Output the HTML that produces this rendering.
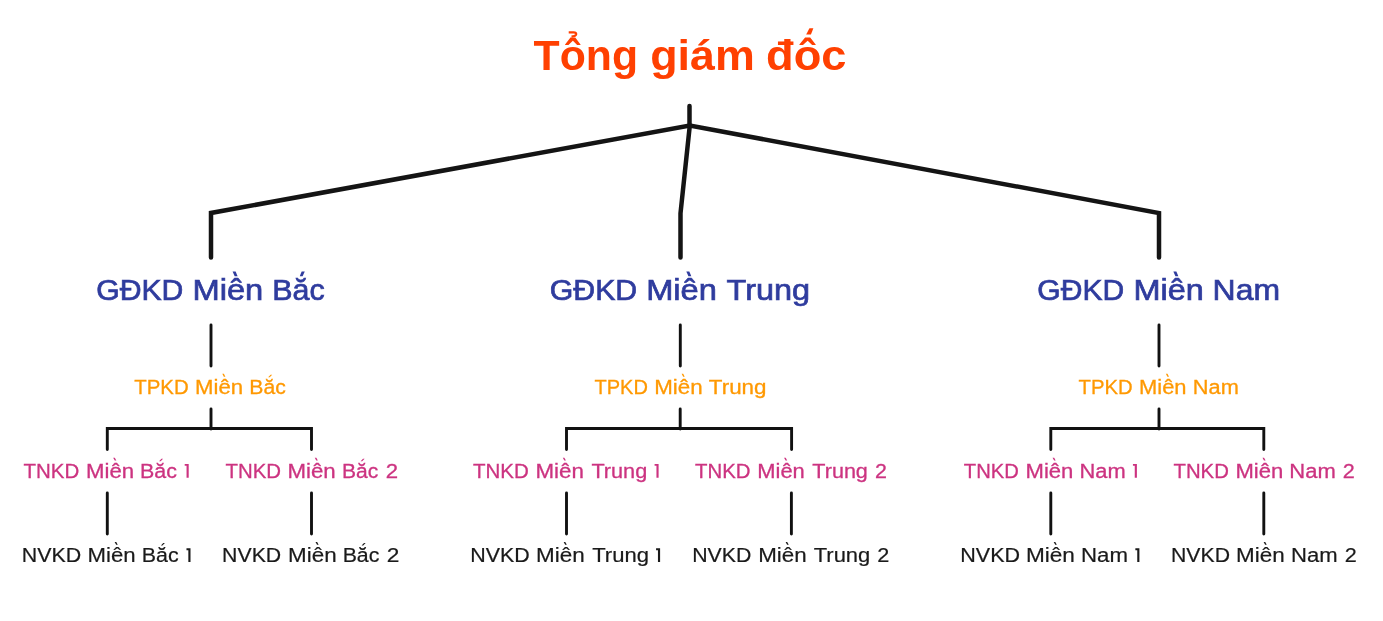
<!DOCTYPE html>
<html lang="vi">
<head>
<meta charset="utf-8">
<title>Sơ đồ tổ chức</title>
<style>
html,body{margin:0;padding:0;background:#fff;}
body{width:1383px;height:621px;overflow:hidden;font-family:"Liberation Sans",sans-serif;}
svg{display:block;will-change:transform;opacity:0.999;}
text{font-family:"Liberation Sans",sans-serif;}
.t0{font-size:43.1px;font-weight:bold;fill:#ff4000;}
.t1{font-size:29.7px;fill:#2f3c9e;stroke:#2f3c9e;stroke-width:0.7px;}
.t2{font-size:20px;fill:#ff9900;stroke:#ff9900;stroke-width:0.3px;}
.t3{font-size:20px;fill:#cc3380;stroke:#cc3380;stroke-width:0.3px;}
.t4{font-size:20px;fill:#1a1a1a;stroke:#1a1a1a;stroke-width:0.2px;}
.one{stroke:none !important;}
.hook{fill:none;stroke:#ff4000;stroke-width:2.3;stroke-linecap:butt;stroke-linejoin:round;}
.thick{fill:none;stroke:#141414;stroke-width:4.5;stroke-linecap:round;stroke-linejoin:miter;}
.thin{fill:none;stroke:#111;stroke-width:2.9;stroke-linecap:round;stroke-linejoin:miter;}
</style>
</head>
<body>
<svg width="1383" height="621" viewBox="0 0 1383 621" role="img" aria-label="Sơ đồ tổ chức">
<desc>Tổng giám đốc; GĐKD Miền Bắc, GĐKD Miền Trung, GĐKD Miền Nam; TPKD Miền Bắc, TPKD Miền Trung, TPKD Miền Nam; TNKD Miền Bắc 1, TNKD Miền Bắc 2, TNKD Miền Trung 1, TNKD Miền Trung 2, TNKD Miền Nam 1, TNKD Miền Nam 2; NVKD Miền Bắc 1, NVKD Miền Bắc 2, NVKD Miền Trung 1, NVKD Miền Trung 2, NVKD Miền Nam 1, NVKD Miền Nam 2</desc>
<!-- top connectors -->
<g class="thick">
<path d="M689.5 106 L689.5 125.5"/>
<path d="M211 257.5 L211 213 L689.8 125.5 L1159 213 L1159 257.5"/>
<path d="M689.8 125.5 L680.5 213.3 L680.5 257.5"/>
</g>
<!-- thin connectors -->
<g class="thin">
<path d="M211 325 L211 366"/>
<path d="M680.3 325 L680.3 366"/>
<path d="M1159 325 L1159 366"/>
<path d="M211 409 L211 429"/>
<path d="M680.2 409 L680.2 429"/>
<path d="M1159 409 L1159 429"/>
<path d="M107.3 449.5 L107.3 428.5 L311.5 428.5 L311.5 449.5"/>
<path d="M566.5 449.5 L566.5 428.5 L791.6 428.5 L791.6 449.5"/>
<path d="M1050.8 449.5 L1050.8 428.5 L1263.8 428.5 L1263.8 449.5"/>
<path d="M107.3 493 L107.3 534"/>
<path d="M311.5 493 L311.5 534"/>
<path d="M566.5 493 L566.5 534"/>
<path d="M791.4 493 L791.4 534"/>
<path d="M1050.8 493 L1050.8 534"/>
<path d="M1263.8 493 L1263.8 534"/>
</g>
<!-- labels (each word placed individually) -->
<g>
<text id="w0" class="t0" x="533.52" y="70.00" textLength="104.50" lengthAdjust="spacingAndGlyphs">Tông</text>
<path class="hook" d="M568.71 32.4H573.61Q576.51 32.5 576.11 34.5Q575.71 36.1 571.51 36.7"/>
<text id="w1" class="t0" x="650.23" y="70.00" textLength="104.58" lengthAdjust="spacingAndGlyphs">giám</text>
<text id="w2" class="t0" x="766.13" y="70.00" textLength="80.41" lengthAdjust="spacingAndGlyphs">đôc</text>
<path class="t0 one" d="M809.46 28.2H813.36L810.96 34.5H806.16Z"/>
<text id="w3" class="t1" x="96.18" y="300.00" textLength="87.22" lengthAdjust="spacingAndGlyphs">GĐKD</text>
<text id="w4" class="t1" x="192.44" y="300.00" textLength="70.83" lengthAdjust="spacingAndGlyphs">Miên</text>
<path class="t1 one" d="M232.60 271.50 L235.60 271.50 L237.60 276.30 L234.70 276.30Z"/>
<text id="w5" class="t1" x="272.33" y="300.00" textLength="52.39" lengthAdjust="spacingAndGlyphs">Băc</text>
<path class="t1 one" d="M301.66 271.55 L304.76 271.55 L302.66 276.30 L299.76 276.30Z"/>
<text id="w6" class="t1" x="549.77" y="300.00" textLength="87.48" lengthAdjust="spacingAndGlyphs">GĐKD</text>
<text id="w7" class="t1" x="646.20" y="300.00" textLength="70.75" lengthAdjust="spacingAndGlyphs">Miên</text>
<path class="t1 one" d="M686.31 271.50 L689.31 271.50 L691.31 276.30 L688.41 276.30Z"/>
<text id="w8" class="t1" x="726.56" y="300.00" textLength="83.54" lengthAdjust="spacingAndGlyphs">Trung</text>
<text id="w9" class="t1" x="1037.37" y="300.00" textLength="86.76" lengthAdjust="spacingAndGlyphs">GĐKD</text>
<text id="w10" class="t1" x="1133.50" y="300.00" textLength="70.34" lengthAdjust="spacingAndGlyphs">Miên</text>
<path class="t1 one" d="M1173.36 271.50 L1176.36 271.50 L1178.36 276.30 L1175.46 276.30Z"/>
<text id="w11" class="t1" x="1212.63" y="300.00" textLength="67.41" lengthAdjust="spacingAndGlyphs">Nam</text>
<text id="w12" class="t2" x="134.33" y="393.80" textLength="54.36" lengthAdjust="spacingAndGlyphs">TPKD</text>
<text id="w13" class="t2" x="195.14" y="393.80" textLength="48.08" lengthAdjust="spacingAndGlyphs">Miên</text>
<path class="t2 one" d="M222.31 373.75 L223.91 373.75 L225.41 376.65 L223.81 376.65Z"/>
<text id="w14" class="t2" x="249.33" y="393.80" textLength="36.53" lengthAdjust="spacingAndGlyphs">Băc</text>
<path class="t2 one" d="M270.56 374.75 L272.16 374.75 L269.76 377.25 L268.16 377.25Z"/>
<text id="w15" class="t2" x="594.48" y="393.80" textLength="53.38" lengthAdjust="spacingAndGlyphs">TPKD</text>
<text id="w16" class="t2" x="654.17" y="393.80" textLength="48.50" lengthAdjust="spacingAndGlyphs">Miên</text>
<path class="t2 one" d="M681.60 373.75 L683.20 373.75 L684.70 376.65 L683.10 376.65Z"/>
<text id="w17" class="t2" x="708.88" y="393.80" textLength="57.64" lengthAdjust="spacingAndGlyphs">Trung</text>
<text id="w18" class="t2" x="1078.64" y="393.80" textLength="54.01" lengthAdjust="spacingAndGlyphs">TPKD</text>
<text id="w19" class="t2" x="1139.09" y="393.80" textLength="47.49" lengthAdjust="spacingAndGlyphs">Miên</text>
<path class="t2 one" d="M1165.89 373.75 L1167.49 373.75 L1168.99 376.65 L1167.39 376.65Z"/>
<text id="w20" class="t2" x="1192.84" y="393.80" textLength="45.93" lengthAdjust="spacingAndGlyphs">Nam</text>
<text id="w21" class="t3" x="23.47" y="477.70" textLength="55.72" lengthAdjust="spacingAndGlyphs">TNKD</text>
<text id="w22" class="t3" x="86.02" y="477.70" textLength="48.12" lengthAdjust="spacingAndGlyphs">Miên</text>
<path class="t3 one" d="M113.21 457.65 L114.81 457.65 L116.31 460.55 L114.71 460.55Z"/>
<text id="w23" class="t3" x="140.02" y="477.70" textLength="36.92" lengthAdjust="spacingAndGlyphs">Băc</text>
<path class="t3 one" d="M161.46 458.65 L163.06 458.65 L160.66 461.15 L159.06 461.15Z"/>
<path class="t3 one" d="M184.70 463.95H188.70V477.70H186.55V465.85H184.70Z"/>
<text id="w25" class="t3" x="225.53" y="477.70" textLength="55.51" lengthAdjust="spacingAndGlyphs">TNKD</text>
<text id="w26" class="t3" x="287.49" y="477.70" textLength="48.22" lengthAdjust="spacingAndGlyphs">Miên</text>
<path class="t3 one" d="M314.74 457.65 L316.34 457.65 L317.84 460.55 L316.24 460.55Z"/>
<text id="w27" class="t3" x="341.90" y="477.70" textLength="36.29" lengthAdjust="spacingAndGlyphs">Băc</text>
<path class="t3 one" d="M363.00 458.65 L364.60 458.65 L362.20 461.15 L360.60 461.15Z"/>
<text id="w28" class="t3" x="385.77" y="477.70" textLength="12.31" lengthAdjust="spacingAndGlyphs">2</text>
<text id="w29" class="t3" x="473.02" y="477.70" textLength="55.83" lengthAdjust="spacingAndGlyphs">TNKD</text>
<text id="w30" class="t3" x="535.41" y="477.70" textLength="48.43" lengthAdjust="spacingAndGlyphs">Miên</text>
<path class="t3 one" d="M562.79 457.65 L564.39 457.65 L565.89 460.55 L564.29 460.55Z"/>
<text id="w31" class="t3" x="591.44" y="477.70" textLength="55.79" lengthAdjust="spacingAndGlyphs">Trung</text>
<path class="t3 one" d="M654.59 463.95H658.60V477.70H656.45V465.85H654.59Z"/>
<text id="w33" class="t3" x="695.02" y="477.70" textLength="55.44" lengthAdjust="spacingAndGlyphs">TNKD</text>
<text id="w34" class="t3" x="757.25" y="477.70" textLength="47.52" lengthAdjust="spacingAndGlyphs">Miên</text>
<path class="t3 one" d="M784.07 457.65 L785.67 457.65 L787.17 460.55 L785.57 460.55Z"/>
<text id="w35" class="t3" x="812.35" y="477.70" textLength="55.52" lengthAdjust="spacingAndGlyphs">Trung</text>
<text id="w36" class="t3" x="875.14" y="477.70" textLength="11.89" lengthAdjust="spacingAndGlyphs">2</text>
<text id="w37" class="t3" x="963.88" y="477.70" textLength="54.96" lengthAdjust="spacingAndGlyphs">TNKD</text>
<text id="w38" class="t3" x="1025.53" y="477.70" textLength="47.88" lengthAdjust="spacingAndGlyphs">Miên</text>
<path class="t3 one" d="M1052.57 457.65 L1054.17 457.65 L1055.67 460.55 L1054.07 460.55Z"/>
<text id="w39" class="t3" x="1079.56" y="477.70" textLength="46.21" lengthAdjust="spacingAndGlyphs">Nam</text>
<path class="t3 one" d="M1132.93 463.95H1136.90V477.70H1134.75V465.85H1132.93Z"/>
<text id="w41" class="t3" x="1173.52" y="477.70" textLength="55.35" lengthAdjust="spacingAndGlyphs">TNKD</text>
<text id="w42" class="t3" x="1235.44" y="477.70" textLength="47.85" lengthAdjust="spacingAndGlyphs">Miên</text>
<path class="t3 one" d="M1262.47 457.65 L1264.07 457.65 L1265.57 460.55 L1263.97 460.55Z"/>
<text id="w43" class="t3" x="1289.29" y="477.70" textLength="46.45" lengthAdjust="spacingAndGlyphs">Nam</text>
<text id="w44" class="t3" x="1342.69" y="477.70" textLength="11.99" lengthAdjust="spacingAndGlyphs">2</text>
<text id="w45" class="t4" x="21.70" y="562.00" textLength="59.43" lengthAdjust="spacingAndGlyphs">NVKD</text>
<text id="w46" class="t4" x="87.49" y="562.00" textLength="48.07" lengthAdjust="spacingAndGlyphs">Miên</text>
<path class="t4 one" d="M114.65 541.95 L116.25 541.95 L117.75 544.85 L116.15 544.85Z"/>
<text id="w47" class="t4" x="141.85" y="562.00" textLength="36.88" lengthAdjust="spacingAndGlyphs">Băc</text>
<path class="t4 one" d="M163.27 542.95 L164.87 542.95 L162.47 545.45 L160.87 545.45Z"/>
<path class="t4 one" d="M186.48 548.25H190.50V562.00H188.35V550.15H186.48Z"/>
<text id="w49" class="t4" x="222.09" y="562.00" textLength="59.13" lengthAdjust="spacingAndGlyphs">NVKD</text>
<text id="w50" class="t4" x="288.05" y="562.00" textLength="48.58" lengthAdjust="spacingAndGlyphs">Miên</text>
<path class="t4 one" d="M315.52 541.95 L317.12 541.95 L318.62 544.85 L317.02 544.85Z"/>
<text id="w51" class="t4" x="342.65" y="562.00" textLength="36.75" lengthAdjust="spacingAndGlyphs">Băc</text>
<path class="t4 one" d="M364.00 542.95 L365.60 542.95 L363.20 545.45 L361.60 545.45Z"/>
<text id="w52" class="t4" x="386.80" y="562.00" textLength="12.61" lengthAdjust="spacingAndGlyphs">2</text>
<text id="w53" class="t4" x="470.22" y="562.00" textLength="59.51" lengthAdjust="spacingAndGlyphs">NVKD</text>
<text id="w54" class="t4" x="536.12" y="562.00" textLength="48.69" lengthAdjust="spacingAndGlyphs">Miên</text>
<path class="t4 one" d="M563.66 541.95 L565.26 541.95 L566.76 544.85 L565.16 544.85Z"/>
<text id="w55" class="t4" x="592.21" y="562.00" textLength="56.77" lengthAdjust="spacingAndGlyphs">Trung</text>
<path class="t4 one" d="M656.07 548.25H660.10V562.00H657.95V550.15H656.07Z"/>
<text id="w57" class="t4" x="692.26" y="562.00" textLength="59.16" lengthAdjust="spacingAndGlyphs">NVKD</text>
<text id="w58" class="t4" x="758.20" y="562.00" textLength="48.48" lengthAdjust="spacingAndGlyphs">Miên</text>
<path class="t4 one" d="M785.61 541.95 L787.21 541.95 L788.71 544.85 L787.11 544.85Z"/>
<text id="w59" class="t4" x="813.78" y="562.00" textLength="56.51" lengthAdjust="spacingAndGlyphs">Trung</text>
<text id="w60" class="t4" x="877.17" y="562.00" textLength="12.04" lengthAdjust="spacingAndGlyphs">2</text>
<text id="w61" class="t4" x="960.30" y="562.00" textLength="59.81" lengthAdjust="spacingAndGlyphs">NVKD</text>
<text id="w62" class="t4" x="1025.98" y="562.00" textLength="48.98" lengthAdjust="spacingAndGlyphs">Miên</text>
<path class="t4 one" d="M1053.70 541.95 L1055.30 541.95 L1056.80 544.85 L1055.20 544.85Z"/>
<text id="w63" class="t4" x="1081.02" y="562.00" textLength="46.93" lengthAdjust="spacingAndGlyphs">Nam</text>
<path class="t4 one" d="M1135.36 548.25H1139.40V562.00H1137.25V550.15H1135.36Z"/>
<text id="w65" class="t4" x="1171.01" y="562.00" textLength="58.99" lengthAdjust="spacingAndGlyphs">NVKD</text>
<text id="w66" class="t4" x="1236.11" y="562.00" textLength="48.64" lengthAdjust="spacingAndGlyphs">Miên</text>
<path class="t4 one" d="M1263.62 541.95 L1265.22 541.95 L1266.72 544.85 L1265.12 544.85Z"/>
<text id="w67" class="t4" x="1291.11" y="562.00" textLength="46.62" lengthAdjust="spacingAndGlyphs">Nam</text>
<text id="w68" class="t4" x="1344.88" y="562.00" textLength="12.01" lengthAdjust="spacingAndGlyphs">2</text>
</g>
</svg>
</body>
</html>
